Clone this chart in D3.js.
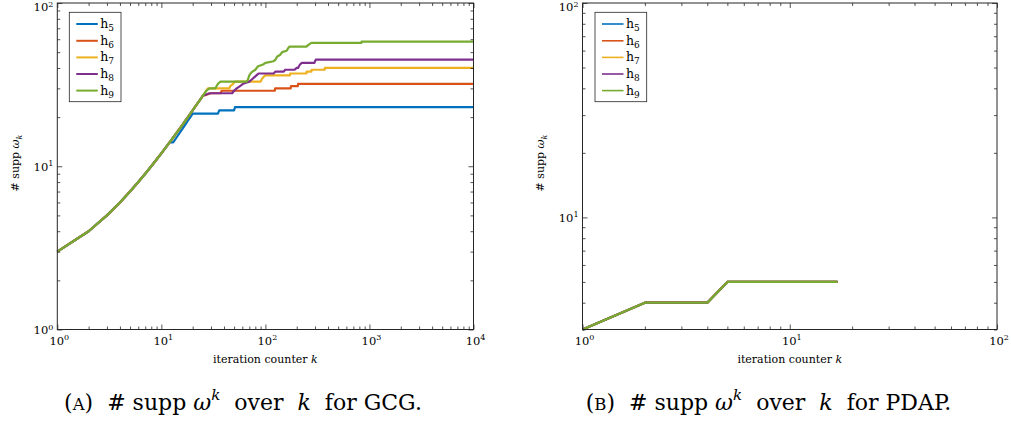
<!DOCTYPE html>
<html><head><meta charset="utf-8">
<script src="https://cdn.jsdelivr.net/npm/d3@7"></script>
<style>
body{margin:0;background:#fff}
svg text{font-family:"DejaVu Serif","Liberation Serif",serif;fill:#000}
</style>
</head><body>
<svg id="c" width="1011" height="421"></svg>
<script>
// ---------- data ----------
const seriesLabels = ["5","6","7","8","9"]; // subscripts of h
// GCG (left panel)
const gcgK_h5 = [1,2,3,4,5,6,7,8,9,10,11,12,13,14,15,16,17,18,19,20,35,36,50,51,10000];
const gcgV_h5 = [3,4,5,6,7,8,9,10,11,12,13,14,14,15,16,17,18,19,20,21,21,22,22,23,23];
const gcgK_h6 = [1,2,3,4,5,6,7,8,9,10,11,12,13,14,15,16,17,18,19,20,21,22,23,24,25,30,37,38,123,124,175,176,205,206,10000];
const gcgV_h6 = [3,4,5,6,7,8,9,10,11,12,13,14,15,16,17,18,19,20,21,22,23,24,25,26,27,28,28,29,29,30,30,31,31,32,32];
const gcgK_h7 = [1,2,3,4,5,6,7,8,9,10,11,12,13,14,15,16,17,18,19,20,21,22,23,24,25,26,28,45,46,49,51,90,92,95,99,172,173,248,249,277,278,372,373,10000];
const gcgV_h7 = [3,4,5,6,7,8,9,10,11,12,13,14,15,16,17,18,19,20,21,22,23,24,25,26,27,28,30,30,31,32,33,33,34,35,36,36,37,37,38,38,39,39,40,40];
const gcgK_h8 = [1,2,3,4,5,6,7,8,9,10,11,12,13,14,15,16,17,18,19,20,21,22,23,24,25,29,48,50,53,57,61,70,74,78,82,86,120,125,150,155,190,200,206,210,215,224,296,300,305,10000];
const gcgV_h8 = [3,4,5,6,7,8,9,10,11,12,13,14,15,16,17,18,19,20,21,22,23,24,25,26,27,28,28,29,30,31,32,33,34,35,36,37,37,38,38,39,39,40,40,41,42,43,43,44,45,45];
const gcgK_h9 = [1,2,3,4,5,6,7,8,9,10,11,12,13,14,15,16,17,18,19,20,21,22,23,24,25,27,29,33,34,35,37,66,68,70,72,75,80,85,95,100,120,125,130,138,145,160,163,166,170,248,255,265,277,837,840,10000];
const gcgV_h9 = [3,4,5,6,7,8,9,10,11,12,13,14,15,16,17,18,19,20,21,22,23,24,25,26,27,29,30,30,31,32,33,33,34,36,37,38,39,41,42,43,44,45,47,48,50,51,52,53,54,54,55,56,57,57,58,58];
// PDAP (right panel) - all five series coincide
const pdapK = [1,2,3,4,5,6,7,8,9,10,11,12,13,14,15,16,17];
const pdapV_h5 = [3,4,4,4,5,5,5,5,5,5,5,5,5,5,5,5,5];
const pdapV_h6 = [3,4,4,4,5,5,5,5,5,5,5,5,5,5,5,5,5];
const pdapV_h7 = [3,4,4,4,5,5,5,5,5,5,5,5,5,5,5,5,5];
const pdapV_h8 = [3,4,4,4,5,5,5,5,5,5,5,5,5,5,5,5,5];
const pdapV_h9 = [3,4,4,4,5,5,5,5,5,5,5,5,5,5,5,5,5];
// tick label exponents
const gcgXExp = [0,1,2,3,4];
const gcgYExp = [0,1,2];
const pdapXExp = [0,1,2];
const pdapYExp = [1,2];

// ---------- styles ----------
const colors = ["#0072BD","#D95319","#EDB120","#7E2F8E","#77AC30"];
const axisColor = "#262626";
const svg = d3.select("#c");

function panel(cfg){
  const x = d3.scaleLog().domain(cfg.xDom).range([cfg.x0, cfg.x1]);
  const y = d3.scaleLog().domain(cfg.yDom).range([cfg.y1, cfg.y0]);
  const g = svg.append("g");
  const line = d3.line().x(d=>x(d.k)).y(d=>y(d.v));
  cfg.series.forEach((s,i)=>{
    const pts = s.k.map((k,j)=>({k:k, v:s.v[j]}));
    g.append("path").datum(pts).attr("d", line)
      .attr("fill","none").attr("stroke", colors[i])
      .attr("stroke-width", cfg.lw).attr("stroke-linejoin","round");
  });
  // ticks
  const isMajor = v => Math.abs(Math.log10(v) - Math.round(Math.log10(v))) < 1e-9;
  const xt = x.ticks(), yt = y.ticks();
  const xMaj = xt.filter(isMajor), xMin = xt.filter(v=>!isMajor(v));
  const yMaj = yt.filter(isMajor), yMin = yt.filter(v=>!isMajor(v));
  const axes = [
    [d3.axisBottom(x), `translate(0,${cfg.y1})`, xMaj, xMin],
    [d3.axisTop(x), `translate(0,${cfg.y0})`, xMaj, xMin],
    [d3.axisLeft(y), `translate(${cfg.x0},0)`, yMaj, yMin],
    [d3.axisRight(y), `translate(${cfg.x1},0)`, yMaj, yMin]
  ];
  axes.forEach(([ax, tr, maj, mn])=>{
    [[maj, -5],[mn, -3]].forEach(([vals, len])=>{
      const a = g.append("g").attr("transform", tr)
        .call(ax.tickValues(vals).tickSize(len).tickSizeOuter(0).tickFormat(""));
      a.select(".domain").remove();
      a.selectAll("line").attr("stroke", axisColor).attr("stroke-width", 0.8);
    });
  });
  g.append("rect").attr("x",cfg.x0).attr("y",cfg.y0)
    .attr("width",cfg.x1-cfg.x0).attr("height",cfg.y1-cfg.y0)
    .attr("fill","none").attr("stroke",axisColor).attr("stroke-width",1);
  // tick labels
  cfg.xExp.forEach(e=>{
    const t = g.append("text").attr("x", x(Math.pow(10,e))+2).attr("y", cfg.y1+15)
      .attr("text-anchor","middle").attr("font-size",11.5);
    t.append("tspan").text("10");
    t.append("tspan").attr("dy",-5).attr("font-size",8).text(e);
  });
  cfg.yExp.forEach(e=>{
    const t = g.append("text").attr("x", cfg.x0-4).attr("y", Math.max(11, y(Math.pow(10,e))+4.5))
      .attr("text-anchor","end").attr("font-size",11.5);
    t.append("tspan").text("10");
    t.append("tspan").attr("dy",-4.5).attr("font-size",8).text(e);
  });
  // axis titles
  const xl = g.append("text").attr("x",(cfg.x0+cfg.x1)/2).attr("y",cfg.y1+33)
    .attr("text-anchor","middle").attr("font-size",11);
  xl.append("tspan").text("iteration counter ");
  xl.append("tspan").attr("font-style","italic").text("k");
  const yl = g.append("text").attr("transform",`translate(${cfg.ylx},163) rotate(-90)`)
    .attr("text-anchor","middle").attr("font-size",11);
  yl.append("tspan").text("# supp ");
  yl.append("tspan").attr("font-style","italic").text("ω");
  yl.append("tspan").attr("font-style","italic").attr("font-size",8).attr("dy",3).text("k");
  // legend
  const lg = g.append("g");
  lg.append("rect").attr("x",cfg.lx).attr("y",12.3).attr("width",51.7).attr("height",89.4)
    .attr("fill","#fff").attr("stroke",axisColor).attr("stroke-width",0.8);
  const ly = [24, 40.8, 57.4, 74, 90.6];
  seriesLabels.forEach((lab,i)=>{
    lg.append("line").attr("x1",cfg.lx+7).attr("x2",cfg.lx+28.5)
      .attr("y1",ly[i]).attr("y2",ly[i]).attr("stroke",colors[i]).attr("stroke-width",cfg.llw);
    const t = lg.append("text").attr("x",cfg.lx+31).attr("y",ly[i]+4).attr("font-size",12.5);
    t.append("tspan").text("h");
    t.append("tspan").attr("dy",3).attr("font-size",9).text(lab);
  });
  // caption
  const c = g.append("text").attr("x",cfg.capx).attr("y",410).attr("text-anchor","middle")
    .attr("font-size",22).style("white-space","pre");
  c.append("tspan").text("(");
  c.append("tspan").attr("font-size",16.5).text(cfg.capLetter);
  c.append("tspan").text(")  # supp ");
  c.append("tspan").attr("font-style","italic").text("ω");
  c.append("tspan").attr("font-style","italic").attr("font-size",15).attr("dy",-10).text("k");
  c.append("tspan").attr("dy",10).text("  over  ");
  c.append("tspan").attr("font-style","italic").text("k");
  c.append("tspan").text("  for " + cfg.capName + ".");
}

panel({
  xDom:[1,1e4], yDom:[1,100], x0:57.3, x1:473.5, y0:3, y1:329.5,
  series:[{k:gcgK_h5,v:gcgV_h5},{k:gcgK_h6,v:gcgV_h6},{k:gcgK_h7,v:gcgV_h7},{k:gcgK_h8,v:gcgV_h8},{k:gcgK_h9,v:gcgV_h9}],
  lw:2.2, llw:2, xExp:gcgXExp, yExp:gcgYExp, ylx:19, lx:69.3,
  capx:243, capLetter:"A", capName:"GCG"
});
panel({
  xDom:[1,100], yDom:[3,100], x0:582.5, x1:997, y0:3, y1:329.5,
  series:[{k:pdapK,v:pdapV_h5},{k:pdapK,v:pdapV_h6},{k:pdapK,v:pdapV_h7},{k:pdapK,v:pdapV_h8},{k:pdapK,v:pdapV_h9}],
  lw:2.3, llw:1.6, xExp:pdapXExp, yExp:pdapYExp, ylx:544, lx:595,
  capx:768.5, capLetter:"B", capName:"PDAP"
});
</script>
</body></html>
